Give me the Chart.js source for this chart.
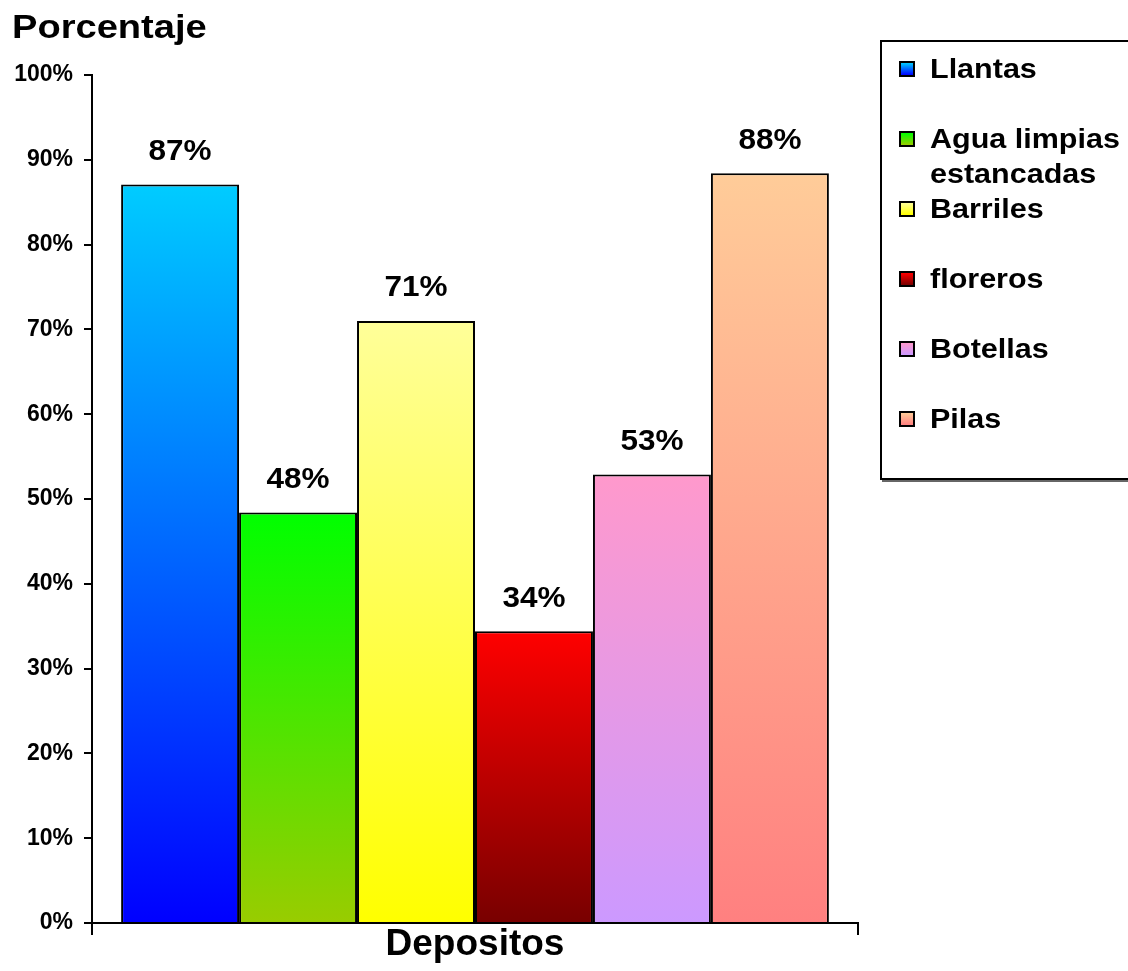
<!DOCTYPE html>
<html>
<head>
  <meta charset="utf-8">
  <title>Depositos</title>
  <script src="https://cdn.jsdelivr.net/npm/chart.js"></script>
  <style>
    body { margin: 0; background: #fff; font-family: "Liberation Sans", Arial, sans-serif; }
    #wrap { position: relative; width: 1128px; height: 971px; overflow: hidden; }
    #yTitle {
      position: absolute; left: 12px; top: 9px;
      font-weight: bold; font-size: 34px; line-height: 34px;
      transform-origin: left top; transform: scaleX(1.12);
    }
    #legend {
      position: absolute; left: 880px; top: 40px; width: 270px; height: 436px;
      border: 2px solid #000; box-shadow: 2px 2px 0 #666; background: #fff;
    }
    .item { position: absolute; left: 17px; height: 70px; }
    .mark {
      position: absolute; left: 0; top: 9px; width: 12px; height: 12px;
      border: 2px solid #000;
    }
    .txt {
      position: absolute; left: 31px; top: 0; width: 172px;
      font-weight: bold; font-size: 27px; line-height: 35px;
      transform-origin: left top; transform: scaleX(1.13);
    }
  </style>
</head>
<body>
  <div id="wrap">
    <canvas id="barChart" width="1128" height="971"></canvas>
    <div id="yTitle">Porcentaje</div>
    <div id="legend"></div>
  </div>

  <script>
    // chart data
    const categories = ['Depositos'];
    const seriesNames = ['Llantas', 'Agua limpias estancadas', 'Barriles', 'floreros', 'Botellas', 'Pilas'];
    const seriesValues = [87.1, 48.4, 71.0, 34.4, 52.9, 88.4];
    const yTicks = [0, 10, 20, 30, 40, 50, 60, 70, 80, 90, 100];

    // gradient colours, top then bottom of each bar
    const topColors = ['#00CCFF', '#00FF00', '#FFFF99', '#FF0000', '#FF99CC', '#FFCC99'];
    const bottomColors = ['#0000FF', '#99CC00', '#FFFF00', '#780000', '#CC99FF', '#FF8080'];

    // legend built from the series names
    const legend = document.getElementById('legend');
    seriesNames.forEach(function(name, i) {
      const item = document.createElement('div');
      item.className = 'item';
      item.style.top = (10 + i * 70) + 'px';
      const mark = document.createElement('div');
      mark.className = 'mark';
      mark.style.background = 'linear-gradient(' + topColors[i] + ', ' + bottomColors[i] + ')';
      const txt = document.createElement('div');
      txt.className = 'txt';
      txt.textContent = name;
      item.appendChild(mark);
      item.appendChild(txt);
      legend.appendChild(item);
    });

    function barGradient(i) {
      return function(ctx) {
        const chart = ctx.chart;
        if (!chart.chartArea || ctx.type !== 'data') return topColors[i];
        const y = chart.scales.y;
        const g = chart.ctx.createLinearGradient(0, y.getPixelForValue(ctx.raw), 0, y.getPixelForValue(0));
        g.addColorStop(0, topColors[i]);
        g.addColorStop(1, bottomColors[i]);
        return g;
      };
    }

    // value labels above each bar
    const valueLabels = {
      id: 'valueLabels',
      afterDatasetsDraw(chart) {
        const c = chart.ctx;
        c.save();
        c.font = 'bold 30px "Liberation Sans", Arial, sans-serif';
        c.fillStyle = '#000';
        c.textAlign = 'center';
        c.textBaseline = 'middle';
        chart.data.datasets.forEach(function(ds, i) {
          const bar = chart.getDatasetMeta(i).data[0];
          c.save();
          c.translate(bar.x, bar.y - 33);
          c.scale(1.05, 1);
          c.fillText(Math.round(ds.data[0]) + '%', 0, 0);
          c.restore();
        });
        c.restore();
      }
    };

    const ctx = document.getElementById('barChart').getContext('2d');
    new Chart(ctx, {
      type: 'bar',
      data: {
        labels: categories,
        datasets: seriesNames.map(function(name, i) {
          return {
            label: name,
            data: [seriesValues[i]],
            backgroundColor: barGradient(i),
            borderColor: '#000',
            borderWidth: 2,
            categoryPercentage: 0.924,
            barPercentage: 1
          };
        })
      },
      options: {
        responsive: false,
        animation: false,
        layout: { padding: { top: 75, right: 270, left: 0, bottom: 0 } },
        plugins: { legend: { display: false }, tooltip: { enabled: false } },
        scales: {
          x: {
            ticks: { display: false },
            grid: { offset: true, drawOnChartArea: false, tickLength: 12, color: '#000', lineWidth: 2 },
            border: { color: '#000', width: 2 },
            title: {
              display: true, text: 'Depositos', color: '#000',
              font: { family: '"Liberation Sans", Arial, sans-serif', size: 37, weight: 'bold' }
            },
            afterFit(scale) { scale.height = 48; }
          },
          y: {
            min: 0,
            max: 100,
            afterBuildTicks(scale) { scale.ticks = yTicks.map(v => ({ value: v })); },
            ticks: {
              callback: v => v + '%',
              color: '#000',
              padding: 11,
              font: { family: '"Liberation Sans", Arial, sans-serif', size: 23, weight: 'bold' }
            },
            grid: { drawOnChartArea: false, tickLength: 8, color: '#000', lineWidth: 2 },
            border: { color: '#000', width: 2 },
            afterFit(scale) { scale.width = 92; }
          }
        }
      },
      plugins: [valueLabels]
    });
  </script>
</body>
</html>
